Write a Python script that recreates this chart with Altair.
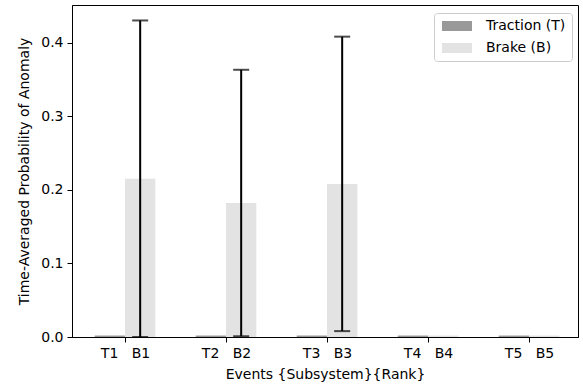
import altair as alt
import pandas as pd

ranks = [1, 2, 3, 4, 5]
traction = [0.002, 0.002, 0.002, 0.002, 0.002]
traction_err = [0.0, 0.0, 0.0, 0.0, 0.0]
brake = [0.215, 0.182, 0.208, 0.002, 0.002]
brake_err = [0.215, 0.181, 0.200, 0.0, 0.0]
subsystems = ["Traction (T)", "Brake (B)"]
colors = ["#999999", "#e3e3e3"]

rows = []
for i, r in enumerate(ranks):
    pos = i
    rows.append(dict(sub=subsystems[0], x0=pos - 0.3, x1=pos, xc=pos - 0.15,
                     v=traction[i], e=traction_err[i]))
    rows.append(dict(sub=subsystems[1], x0=pos, x1=pos + 0.3, xc=pos + 0.15,
                     v=brake[i], e=brake_err[i]))
df = pd.DataFrame(rows)
df["lo"] = (df["v"] - df["e"]).clip(lower=0)
df["hi"] = df["v"] + df["e"]
err_df = df[df["e"] > 0]

FONT = "DejaVu Sans"
FS = 14
xscale = alt.Scale(domain=[-0.525, 4.485], nice=False, zero=False)
yscale = alt.Scale(domain=[0, 0.451], nice=False)

nb = "\u00a0"
label_expr = f"'T' + (datum.value + 1) + '{nb*3}B' + (datum.value + 1)"

bars = alt.Chart(df).mark_bar(strokeWidth=0).encode(
    x=alt.X("x0:Q", scale=xscale,
            axis=alt.Axis(values=[0, 1, 2, 3, 4], labelExpr=label_expr,
                          title="Events {Subsystem}{Rank}", grid=False)),
    x2="x1:Q",
    y=alt.Y("v:Q", scale=yscale,
            axis=alt.Axis(values=[0, 0.1, 0.2, 0.3, 0.4], format=".1f",
                          title="Time-Averaged Probability of Anomaly", grid=False)),
    y2=alt.datum(0),
    color=alt.Color("sub:N", scale=alt.Scale(domain=subsystems, range=colors),
                    sort=subsystems,
                    legend=alt.Legend(title=None, orient="none", legendX=362, legendY=8,
                                      symbolType="M-3,-1H3V1H-3Z",
                                      symbolSize=100, symbolStrokeWidth=0,
                                      symbolOpacity=1, symbolOffset=10,
                                      labelFont=FONT, labelFontSize=FS, labelColor="black",
                                      rowPadding=8, labelOffset=22,
                                      padding=6, strokeColor="#cccccc",
                                      fillColor="white", cornerRadius=3)),
)

err_rule = alt.Chart(err_df).mark_rule(color="black", strokeWidth=2).encode(
    x=alt.X("xc:Q", scale=xscale),
    y=alt.Y("lo:Q", scale=yscale),
    y2="hi:Q",
)
cap_hi = alt.Chart(err_df).mark_tick(color="black", orient="horizontal", size=16,
                                      thickness=2).encode(
    x=alt.X("xc:Q", scale=xscale),
    y=alt.Y("hi:Q", scale=yscale),
)
cap_lo = alt.Chart(err_df).mark_tick(color="black", orient="horizontal", size=16,
                                      thickness=2).encode(
    x=alt.X("xc:Q", scale=xscale),
    y=alt.Y("lo:Q", scale=yscale),
)

chart = alt.layer(bars, err_rule, cap_lo, cap_hi).properties(
    width=506, height=332,
    autosize=alt.AutoSizeParams(type="none"),
    padding={"left": 72, "top": 5, "right": 5, "bottom": 52},
).configure_view(
    stroke="black", strokeWidth=1
).configure_axis(
    labelFont=FONT, titleFont=FONT, labelFontSize=FS, titleFontSize=FS,
    labelColor="black", titleColor="black", titleFontWeight="normal",
    domainColor="black", tickColor="black", tickSize=5, labelPadding=4,
).configure_axisX(titlePadding=7, labelAngle=0).configure_axisY(titlePadding=9)

chart.save("out.html", embed_options={"renderer": "svg", "actions": False})
